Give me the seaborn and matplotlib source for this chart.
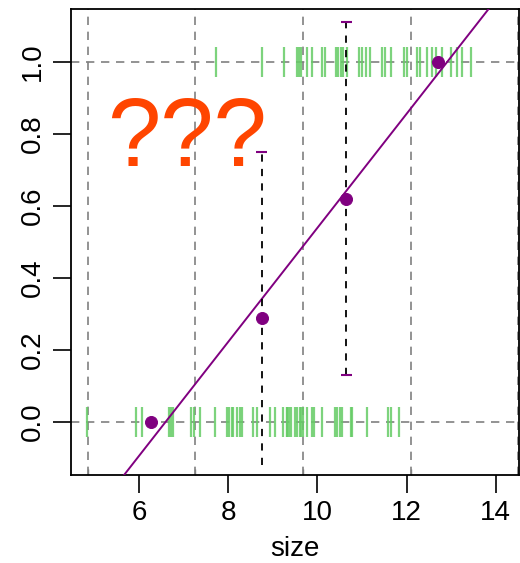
import numpy as np
import pandas as pd
import matplotlib
matplotlib.use("Agg")
import matplotlib.pyplot as plt
import seaborn as sns

# rug observations (size) for outcome 0 and outcome 1
size_0 = [4.84, 5.93, 6.07, 6.67, 6.72, 6.76, 7.18, 7.23, 7.36, 7.70, 7.97, 8.01,
          8.08, 8.12, 8.21, 8.26, 8.32, 8.55, 8.64, 8.95, 9.06, 9.24, 9.31, 9.33,
          9.37, 9.42, 9.49, 9.55, 9.62, 9.64, 9.69, 9.78, 9.89, 9.93, 10.11, 10.40,
          10.45, 10.51, 10.56, 10.76, 10.78, 11.12, 11.59, 11.65, 11.83]
size_1 = [7.72, 8.77, 9.26, 9.55, 9.58, 9.64, 9.78, 9.87, 10.11, 10.18, 10.43,
          10.47, 10.54, 10.58, 10.67, 10.94, 11.01, 11.09, 11.18, 11.45, 11.52,
          11.65, 11.94, 12.01, 12.23, 12.30, 12.46, 12.57, 12.66, 12.79, 12.99,
          13.13, 13.24, 13.44]

# binned proportions with intervals
bin_breaks = [4.86, 7.27, 9.69, 12.10, 14.49]
bin_x = [6.27, 8.75, 10.65, 12.70]
bin_prop = [0.0, 0.29, 0.62, 1.0]
err_x = [8.75, 10.65]
err_lo = [-0.12, 0.13]
err_hi = [0.75, 1.11]

# fitted line
intercept = -1.045
slope = 0.1584

sns.set_style("ticks")
plt.rcParams["font.family"] = ["Liberation Sans", "DejaVu Sans"]
plt.rcParams["text.color"] = "black"
plt.rcParams["axes.labelcolor"] = "black"
plt.rcParams["xtick.color"] = "black"
plt.rcParams["ytick.color"] = "black"

fig = plt.figure(figsize=(5.2, 5.63), dpi=100)
ax = fig.add_axes([71 / 520, 88 / 563, 448 / 520, 466 / 563])

grid_kw = dict(color="#808080", lw=1.2, linestyle=(0, (5, 4)), zorder=1)
for b in bin_breaks:
    ax.axvline(b, **grid_kw)
for h in [0, 1]:
    ax.axhline(h, **grid_kw)

rug = pd.DataFrame({"size": size_0 + size_1,
                    "y": [0] * len(size_0) + [1] * len(size_1)})
sns.scatterplot(data=rug, x="size", y="y", marker="|", s=480, color="#66cc66",
                linewidth=1.6, alpha=0.85, ax=ax, zorder=2)

line_x = np.array([4.3, 14.7])
sns.lineplot(x=line_x, y=intercept + slope * line_x, color="purple", lw=1.4,
             ax=ax, zorder=3)

ax.vlines(err_x, err_lo, err_hi, colors="black", lw=1.3,
          linestyles=(0, (4, 4)), zorder=3)
ax.hlines(err_hi + err_lo[1:], [x - 0.12 for x in err_x + err_x[1:]],
          [x + 0.12 for x in err_x + err_x[1:]],
          colors="purple", lw=1.5, zorder=3)

pts = pd.DataFrame({"size": bin_x, "prop": bin_prop})
sns.scatterplot(data=pts, x="size", y="prop", color="purple", s=75,
                edgecolor="purple", ax=ax, zorder=4)

ax.text(7.07, 0.78, "???", color="#ff4500", fontsize=69, ha="center",
        va="center", zorder=5)

ax.set_xlim(4.48, 14.52)
ax.set_ylim(-0.147, 1.147)
ax.set_xticks([6, 8, 10, 12, 14])
ax.set_yticks([0.0, 0.2, 0.4, 0.6, 0.8, 1.0])
ax.set_yticklabels(["0.0", "0.2", "0.4", "0.6", "0.8", "1.0"], rotation=90,
                   va="center")
ax.set_xticks(bin_breaks, minor=True)
ax.tick_params(axis="both", which="major", length=13, width=1.2, labelsize=20,
               color="black", labelcolor="black", pad=5)
ax.tick_params(axis="x", which="minor", direction="in", length=4, width=1,
               color="#808080")
ax.set_xlabel("size", fontsize=20, labelpad=7, color="black")
ax.set_ylabel("")
for s in ax.spines.values():
    s.set_visible(True)
    s.set_color("black")
    s.set_linewidth(1.3)

fig.savefig("out.png", dpi=100)
